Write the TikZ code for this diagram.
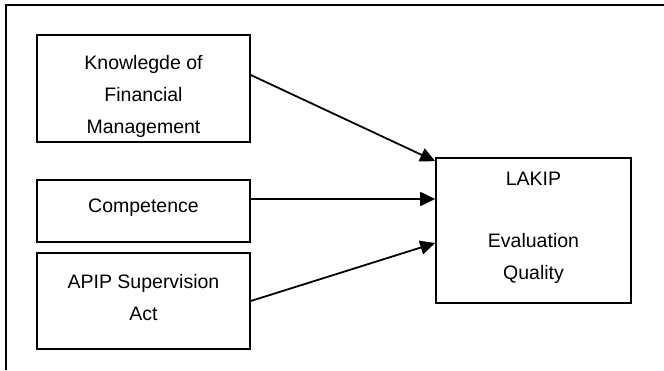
\documentclass[tikz,border=0pt]{standalone}
\usepackage{fontspec}
\setmainfont{Liberation Sans}
\usepackage{tikz}
\usetikzlibrary{arrows.meta}

\begin{document}
\begin{tikzpicture}[x=1pt, y=-1pt,
    varbox/.style={draw, line width=1.6pt, align=center, inner sep=0pt,
        font=\fontsize{19.5}{32}\selectfont, minimum width=213pt},
    link/.style={line width=1.8pt, -{Triangle[length=15pt, width=14pt]}}]
    \useasboundingbox (0,0) rectangle (664,370);

    % Draw the open frame
    \draw[line width=1.6pt] (664,5) -- (6,5) -- (6,370);

    % Draw the three variable boxes
    \node[varbox, minimum height=107pt, text height=90pt, text depth=0pt] (know) at (143.5,88.5)
        {Knowlegde of\\Financial\\Management};
    \node[varbox, minimum height=62pt, text depth=10pt] (comp) at (143.5,211)
        {Competence};
    \node[varbox, minimum height=96pt, text depth=8pt] (apip) at (143.5,301)
        {APIP Supervision\\Act};

    % Draw the quality box
    \node[varbox, minimum width=195pt, minimum height=145pt, text depth=9pt] (lakip) at (533.5,230.5)
        {LAKIP\\[30pt]Evaluation\\Quality};

    % Draw the arrows
    \draw[link] ([yshift=13.5pt]know.east) -- ([yshift=-4pt]lakip.north west);
    \draw[link] ([yshift=12pt]comp.east) -- ([yshift=12pt]comp.east -| lakip.west);
    \draw[link] (apip.east) -- ([yshift=-12.5pt]lakip.west);
\end{tikzpicture}
\end{document}
